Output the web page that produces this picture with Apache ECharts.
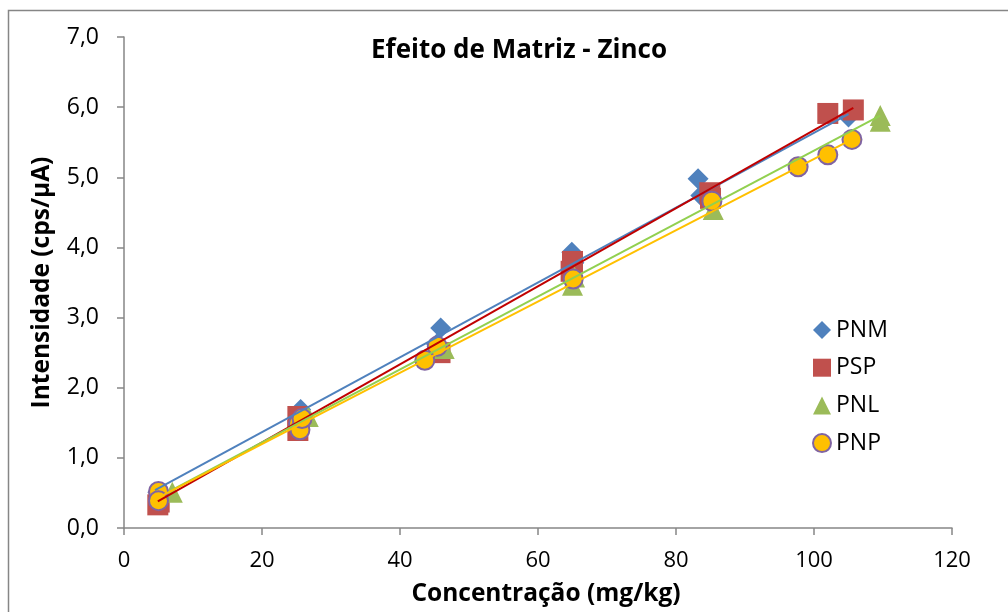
<!DOCTYPE html>
<html>
<head>
<meta charset="utf-8">
<script src="https://cdn.jsdelivr.net/npm/echarts@6/dist/echarts.min.js"></script>
<style>
html,body{margin:0;padding:0;background:#fff;}
#chart{width:1008px;height:612px;}
</style>
</head>
<body>
<div id="chart"></div>
<script>
// Data: [concentration (mg/kg), intensity (cps/µA)]
const seriesNames = ['PNM', 'PSP', 'PNL', 'PNP'];
const pnm = [[4.9,0.51],[5.2,0.46],[25.6,1.69],[25.4,1.58],[45.9,2.85],[45.3,2.62],[64.9,3.93],[65.2,3.78],[83.2,4.98],[83.6,4.74],[105.0,5.86]];
const psp = [[5.1,0.37],[4.9,0.33],[25.2,1.59],[25.2,1.39],[45.8,2.50],[65.0,3.80],[64.8,3.66],[84.9,4.78],[85.0,4.70],[102.0,5.91],[105.7,5.96]];
const pnl = [[7.0,0.51],[26.7,1.59],[46.4,2.56],[65.0,3.46],[65.3,3.58],[85.4,4.54],[109.6,5.80],[109.6,5.88]];
const pnp = [[5.0,0.52],[5.0,0.39],[25.3,1.49],[25.5,1.40],[25.8,1.56],[45.4,2.59],[43.6,2.39],[65.1,3.55],[85.2,4.66],[97.7,5.15],[102.0,5.32],[105.5,5.54]];
// Trendline endpoints [x, y]
const trendPNM = [[4.5,0.54],[105.0,5.90]];
const trendPSP = [[4.9,0.38],[105.7,5.99]];
const trendPNL = [[6.5,0.52],[109.6,5.88]];
const trendPNP = [[4.9,0.43],[105.5,5.54]];
const xTicks = {min:0, max:120, interval:20};
const yTicks = {min:0, max:7, interval:1};

const colors = {
  PNM:'#4F81BD', PSP:'#C0504D', PNL:'#9BBB59', PNP:'#FFC000'
};
const font = '"Open Sans", sans-serif';
const chart = echarts.init(document.getElementById('chart'));
const scatter = (name, data, symbol, size, extra) => Object.assign({
  name, type:'scatter', data, symbol, symbolSize:size, z:2,
  itemStyle:{color:colors[name], opacity:1}
}, extra || {});
const trend = (data, color) => ({
  type:'line', data, symbol:'none', z:5, silent:true,
  lineStyle:{color, width:2}, animation:false
});
chart.setOption({
  animation:false,
  backgroundColor:'#fff',
  title:{
    text:'Efeito de Matriz - Zinco', left:514, top:33, textAlign:'center',
    textStyle:{fontFamily:font, fontWeight:'bold', fontSize:26, color:'#000'}
  },
  graphic:[{
    type:'rect', shape:{x:8.5, y:10.5, width:1100, height:700},
    style:{fill:'none', stroke:'#868686', lineWidth:1.5}, silent:true, z:-1
  }],
  legend:{
    data:seriesNames.map(n=>({name:n})),
    orient:'vertical', left:807, top:313, itemGap:13.7,
    itemWidth:18, itemHeight:18,
    textStyle:{fontFamily:font, fontSize:23, lineHeight:24, color:'#000'}
  },
  grid:{left:124, right:56, top:37, bottom:82},
  xAxis:{
    type:'value', min:xTicks.min, max:xTicks.max, interval:xTicks.interval,
    name:'Concentração (mg/kg)', nameLocation:'middle', nameGap:54,
    nameTextStyle:{fontFamily:font, fontWeight:'bold', fontSize:24.5, color:'#000', padding:[0,0,0,16]},
    axisLine:{show:true, lineStyle:{color:'#868686', width:1.5}},
    axisTick:{show:true, length:7, lineStyle:{color:'#868686', width:1.5}},
    axisLabel:{fontFamily:font, fontSize:22, color:'#000', margin:22},
    splitLine:{show:false}
  },
  yAxis:{
    type:'value', min:yTicks.min, max:yTicks.max, interval:yTicks.interval,
    name:'Intensidade (cps/µA)', nameLocation:'middle', nameGap:69,
    nameTextStyle:{fontFamily:font, fontWeight:'bold', fontSize:24.5, color:'#000'},
    axisLine:{show:true, lineStyle:{color:'#868686', width:1.5}},
    axisTick:{show:true, length:7, lineStyle:{color:'#868686', width:1.5}},
    axisLabel:{fontFamily:font, fontSize:23, color:'#000', margin:25,
      formatter:v=>v.toFixed(1).replace('.', ',')},
    splitLine:{show:false}
  },
  series:[
    scatter('PNM', pnm, 'diamond', 21),
    scatter('PSP', psp, 'rect', 21),
    scatter('PNL', pnl, 'triangle', 21),
    scatter('PNP', pnp, 'circle', 19, {itemStyle:{color:colors.PNP, borderColor:'#8064A2', borderWidth:2, opacity:1}}),
    trend(trendPNM, '#4F81BD'),
    trend(trendPSP, '#C00000'),
    trend(trendPNL, '#92D050'),
    trend(trendPNP, '#FFC000')
  ]
});
</script>
</body>
</html>
